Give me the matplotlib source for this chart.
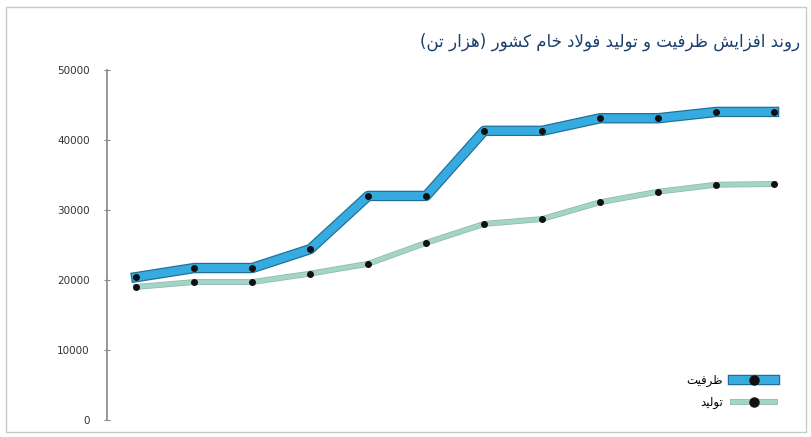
import matplotlib
matplotlib.use("Agg")
import matplotlib.pyplot as plt
import matplotlib.patheffects as pe
from matplotlib.patches import Rectangle
from matplotlib.lines import Line2D

plt.rcParams['font.family'] = ['DejaVu Sans']

# ---- data ----
periods = list(range(12))
capacity = [20400, 21700, 21700, 24400, 32000, 32000, 41300, 41300, 43100, 43100, 44000, 44000]
production = [19000, 19700, 19700, 20900, 22300, 25300, 28000, 28700, 31100, 32600, 33600, 33700]
yticks = [0, 10000, 20000, 30000, 40000, 50000]
ytick_labels = ["0", "10000", "20000", "30000", "40000", "50000"]
title_text = "روند افزایش ظرفیت و تولید فولاد خام کشور (هزار تن)"
label_capacity = "ظرفیت"
label_production = "تولید"

# ---- minimal Arabic/Persian shaping ----
FORMS = {
    'ا': (0xFE8D, 0xFE8E, None, None), 'آ': (0xFE81, 0xFE82, None, None),
    'ب': (0xFE8F, 0xFE90, 0xFE91, 0xFE92), 'پ': (0xFB56, 0xFB57, 0xFB58, 0xFB59),
    'ت': (0xFE95, 0xFE96, 0xFE97, 0xFE98), 'ث': (0xFE99, 0xFE9A, 0xFE9B, 0xFE9C),
    'ج': (0xFE9D, 0xFE9E, 0xFE9F, 0xFEA0), 'چ': (0xFB7A, 0xFB7B, 0xFB7C, 0xFB7D),
    'ح': (0xFEA1, 0xFEA2, 0xFEA3, 0xFEA4), 'خ': (0xFEA5, 0xFEA6, 0xFEA7, 0xFEA8),
    'د': (0xFEA9, 0xFEAA, None, None), 'ذ': (0xFEAB, 0xFEAC, None, None),
    'ر': (0xFEAD, 0xFEAE, None, None), 'ز': (0xFEAF, 0xFEB0, None, None),
    'ژ': (0xFB8A, 0xFB8B, None, None),
    'س': (0xFEB1, 0xFEB2, 0xFEB3, 0xFEB4), 'ش': (0xFEB5, 0xFEB6, 0xFEB7, 0xFEB8),
    'ص': (0xFEB9, 0xFEBA, 0xFEBB, 0xFEBC), 'ض': (0xFEBD, 0xFEBE, 0xFEBF, 0xFEC0),
    'ط': (0xFEC1, 0xFEC2, 0xFEC3, 0xFEC4), 'ظ': (0xFEC5, 0xFEC6, 0xFEC7, 0xFEC8),
    'ع': (0xFEC9, 0xFECA, 0xFECB, 0xFECC), 'غ': (0xFECD, 0xFECE, 0xFECF, 0xFED0),
    'ف': (0xFED1, 0xFED2, 0xFED3, 0xFED4), 'ق': (0xFED5, 0xFED6, 0xFED7, 0xFED8),
    'ک': (0xFB8E, 0xFB8F, 0xFB90, 0xFB91), 'گ': (0xFB92, 0xFB93, 0xFB94, 0xFB95),
    'ل': (0xFEDD, 0xFEDE, 0xFEDF, 0xFEE0), 'م': (0xFEE1, 0xFEE2, 0xFEE3, 0xFEE4),
    'ن': (0xFEE5, 0xFEE6, 0xFEE7, 0xFEE8), 'ه': (0xFEE9, 0xFEEA, 0xFEEB, 0xFEEC),
    'و': (0xFEED, 0xFEEE, None, None), 'ی': (0xFBFC, 0xFBFD, 0xFBFE, 0xFBFF),
}
def dual(c):
    return c in FORMS and FORMS[c][2] is not None

def shape(text):
    chars = list(text)
    out = []
    i = 0
    n = len(chars)
    while i < n:
        c = chars[i]
        prev = chars[i - 1] if i > 0 else ''
        if c == 'ل' and i + 1 < n and chars[i + 1] in ('ا', 'آ'):
            jp = dual(prev)
            if chars[i + 1] == 'ا':
                out.append(chr(0xFEFC if jp else 0xFEFB))
            else:
                out.append(chr(0xFEF6 if jp else 0xFEF5))
            i += 2
            continue
        if c in FORMS:
            nxt = chars[i + 1] if i + 1 < n else ''
            jp = dual(prev)
            jn = dual(c) and nxt in FORMS
            iso, fin, ini, med = FORMS[c]
            if jp and jn:
                out.append(chr(med))
            elif jp:
                out.append(chr(fin))
            elif jn:
                out.append(chr(ini))
            else:
                out.append(chr(iso))
        else:
            out.append(c)
        i += 1
    s = ''.join(out)[::-1]
    s = s.translate(str.maketrans('()', ')('))
    return s

# ---- figure ----
fig = plt.figure(figsize=(8.12, 4.37), dpi=100)
fig.patches.append(Rectangle((0.008, 0.012), 0.984, 0.972, transform=fig.transFigure,
                             fill=False, edgecolor='#c8c8c8', linewidth=1))
ax = fig.add_axes([0.132, 0.039, 0.857, 0.801])

cap_color, cap_edge = '#35abe0', '#1f6e98'
prod_color, prod_edge = '#a3d4c6', '#8db5aa'
cap_pe = [pe.Stroke(linewidth=7.5, foreground=cap_edge), pe.Normal()]
prod_pe = [pe.Stroke(linewidth=4.2, foreground=prod_edge), pe.Normal()]

ax.plot(periods, capacity, color=cap_color, linewidth=5.8, path_effects=cap_pe, zorder=3)
ax.plot(periods, capacity, linestyle='none', marker='o', markersize=4.0,
        markerfacecolor='#111111', markeredgecolor='#111111', zorder=4)
ax.plot(periods, production, color=prod_color, linewidth=3.2, path_effects=prod_pe, zorder=2)
ax.plot(periods, production, linestyle='none', marker='o', markersize=4.0,
        markerfacecolor='#111111', markeredgecolor='#111111', zorder=4)

ax.set_xlim(-0.5, 11.5)
ax.set_ylim(0, 50000)
ax.set_yticks(yticks)
ax.set_yticklabels(ytick_labels, fontsize=7.5, color='#333333')
ax.set_xticks([])
for s in ('top', 'right', 'bottom'):
    ax.spines[s].set_visible(False)
ax.spines['left'].set_color('#888888')
ax.spines['left'].set_linewidth(1.2)
ax.tick_params(axis='y', direction='inout', length=5, color='#888888', pad=10)

fig.text(0.985, 0.905, shape(title_text), ha='right', va='center', fontsize=12, color='#1a3f6b')

h_cap_line = Line2D([], [], color=cap_color, linewidth=5.8, path_effects=cap_pe)
h_cap_mark = Line2D([], [], linestyle='none', marker='o', markersize=6.5,
                    markerfacecolor='#111111', markeredgecolor='#111111')
h_prod_line = Line2D([], [], color=prod_color, linewidth=3.2, path_effects=prod_pe)
h_prod_mark = Line2D([], [], linestyle='none', marker='o', markersize=6.5,
                     markerfacecolor='#111111', markeredgecolor='#111111')
leg = ax.legend([(h_cap_line, h_cap_mark), (h_prod_line, h_prod_mark)],
                [shape(label_capacity), shape(label_production)],
                loc='lower right', bbox_to_anchor=(0.975, 0.0), frameon=False,
                markerfirst=False, fontsize=8.5, handlelength=3.6, labelspacing=0.75,
                handletextpad=0.8)

fig.savefig('out.png', dpi=100)
